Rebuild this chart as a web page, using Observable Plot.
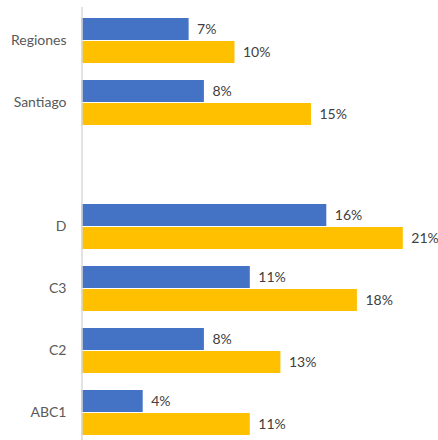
<!DOCTYPE html>
<html>
<head>
<meta charset="utf-8">
<script src="https://cdn.jsdelivr.net/npm/d3@7"></script>
<script src="https://cdn.jsdelivr.net/npm/@observablehq/plot@0.6"></script>
<style>
  html, body { margin: 0; padding: 0; background: #fff; }
  #chart svg { display: block; }
</style>
</head>
<body>
<div id="chart"></div>
<script>
// Categories top to bottom (blank entry is the empty gap between the two groups)
const categories = ["Regiones", "Santiago", " ", "D", "C3", "C2", "ABC1"];
const barCategories = ["Regiones", "Santiago", "D", "C3", "C2", "ABC1"];
const seriesBlue = [7, 8, 16, 11, 8, 4];
const seriesYellow = [10, 15, 21, 18, 13, 11];

const blueColor = "#4472C4";
const yellowColor = "#FFC000";

const blue = barCategories.map((c, i) => ({cat: c, value: seriesBlue[i]}));
const yellow = barCategories.map((c, i) => ({cat: c, value: seriesYellow[i]}));

const fontFamily = "Lato, 'Open Sans', sans-serif";

const chart = Plot.plot({
  width: 438,
  height: 440,
  marginLeft: 81,
  marginTop: 7,
  marginRight: 0,
  marginBottom: 0,
  style: {fontFamily, fontSize: "14px", background: "#fff"},
  x: {domain: [0, 23], range: [81.5, 81.5 + 23 * 15.3], axis: null},
  y: {domain: categories, padding: 0.27, range: [-2, 456], axis: null},
  marks: [
    Plot.barX(blue, {x: "value", y: "cat", fill: blueColor, insetBottom: 23}),
    Plot.barX(yellow, {x: "value", y: "cat", fill: yellowColor, insetTop: 23}),
    Plot.ruleX([0], {stroke: "#d9d9d9", strokeWidth: 1.5}),
    Plot.axisY({tickSize: 0, tickPadding: 15, fill: "#595959", fontSize: 14, label: null}),
    Plot.text(blue, {x: "value", y: "cat", text: d => d.value + "%", textAnchor: "start", dx: 8, dy: -11, fill: "#404040", fontSize: 14}),
    Plot.text(yellow, {x: "value", y: "cat", text: d => d.value + "%", textAnchor: "start", dx: 8, dy: 12, fill: "#404040", fontSize: 14})
  ]
});
document.getElementById("chart").appendChild(chart);
</script>
</body>
</html>
